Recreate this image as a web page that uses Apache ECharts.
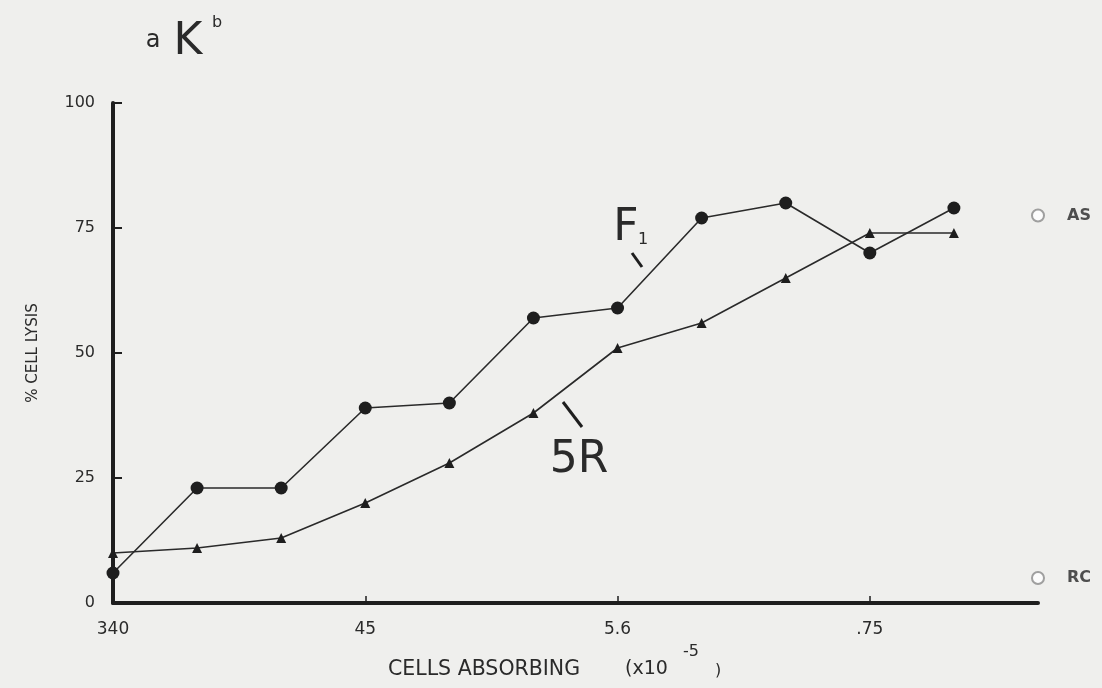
<!DOCTYPE html>
<html>
<head>
<meta charset="utf-8">
<script src="https://cdn.jsdelivr.net/npm/echarts@6/dist/echarts.min.js"></script>
<style>
html,body{margin:0;padding:0;background:#efefed;}
#c{width:1102px;height:688px;}
</style>
</head>
<body>
<div id="c"></div>
<script>
// x positions in thirds of a major step (major ticks at 0,3,6,9)
const xSteps = [0, 1, 2, 3, 4, 5, 6, 7, 8, 9, 10];
const xTickValues = [0, 3, 6, 9];
const xTickLabels = ['340', '45', '5.6', '.75'];
const yTickValues = [25, 50, 75, 100];
const f1Values = [6, 23, 23, 39, 40, 57, 59, 77, 80, 70, 79];
const r5Values = [10, 11, 13, 20, 28, 38, 51, 56, 65, 74, 74];
const controlNames = ['AS', 'RC'];
const controlValues = [77.5, 5];
const controlX = 11;

const FONT = 'DejaVu Sans';
const INK = '#1e1e1e';
const TXT = '#2a2a2a';

const chart = echarts.init(document.getElementById('c'), null, {renderer: 'canvas'});

const option = {
  backgroundColor: '#efefed',
  animation: false,
  grid: {left: 113, right: 64, top: 103, bottom: 85, containLabel: false},
  xAxis: {
    type: 'value', min: 0, max: 11, interval: 3,
    axisLine: {show: true, onZero: false, lineStyle: {color: INK, width: 4}},
    axisTick: {show: true, inside: true, length: 7, customValues: xTickValues.slice(1), lineStyle: {color: INK, width: 1.5}},
    axisLabel: {
      customValues: xTickValues, margin: 18, color: TXT, fontFamily: FONT, fontSize: 17,
      formatter: v => { const i = xTickValues.indexOf(v); return i >= 0 ? xTickLabels[i] : ''; }
    },
    splitLine: {show: false}
  },
  yAxis: {
    type: 'value', min: 0, max: 100, interval: 25,
    name: '% CELL LYSIS', nameLocation: 'middle', nameRotate: 90, nameGap: 72,
    nameTextStyle: {color: TXT, fontFamily: FONT, fontSize: 15},
    axisLine: {show: true, onZero: false, lineStyle: {color: INK, width: 4}},
    axisTick: {show: true, inside: true, length: 9, customValues: yTickValues, lineStyle: {color: INK, width: 2}},
    axisLabel: {margin: 18, color: TXT, fontFamily: FONT, fontSize: 16},
    splitLine: {show: false}
  },
  series: [
    {
      name: 'F1', type: 'line',
      data: xSteps.map((x, i) => [x, f1Values[i]]),
      symbol: 'circle', symbolSize: 13,
      itemStyle: {color: INK},
      lineStyle: {color: '#2a2a2a', width: 1.6}
    },
    {
      name: '5R', type: 'line',
      data: xSteps.map((x, i) => [x, r5Values[i]]),
      symbol: 'triangle', symbolSize: 10,
      itemStyle: {color: INK},
      lineStyle: {color: '#2a2a2a', width: 1.6}
    },
    {
      name: 'controls', type: 'scatter', clip: false,
      data: controlNames.map((n, i) => ({name: n, value: [controlX, controlValues[i]]})),
      symbol: 'emptyCircle', symbolSize: 12,
      itemStyle: {color: '#8a8a8a', borderColor: '#8a8a8a', borderWidth: 1.5},
      label: {show: true, position: 'right', distance: 22, formatter: '{b}', color: '#262626', fontFamily: FONT, fontSize: 16, fontWeight: 'bold'}
    }
  ],
  graphic: [
    // title aK^b
    {type: 'text', style: {x: 153, y: 41, text: 'a', font: '24px "DejaVu Sans"', fill: TXT, textAlign: 'center', textVerticalAlign: 'middle'}},
    {type: 'text', style: {x: 188, y: 43, text: 'K', font: '44px "DejaVu Sans"', fill: TXT, textAlign: 'center', textVerticalAlign: 'middle'}},
    {type: 'text', style: {x: 217, y: 23, text: 'b', font: '16px "DejaVu Sans"', fill: TXT, textAlign: 'center', textVerticalAlign: 'middle'}},
    // F1 annotation
    {type: 'text', style: {x: 626, y: 229, text: 'F', font: '44px "DejaVu Sans"', fill: TXT, textAlign: 'center', textVerticalAlign: 'middle'}},
    {type: 'text', style: {x: 643, y: 240, text: '1', font: '16px "DejaVu Sans"', fill: TXT, textAlign: 'center', textVerticalAlign: 'middle'}},
    {type: 'line', shape: {x1: 632, y1: 253, x2: 642, y2: 267}, style: {stroke: INK, lineWidth: 3}},
    // 5R annotation
    {type: 'text', style: {x: 579, y: 461, text: '5R', font: '44px "DejaVu Sans"', fill: TXT, textAlign: 'center', textVerticalAlign: 'middle'}},
    {type: 'line', shape: {x1: 563, y1: 402, x2: 582, y2: 427}, style: {stroke: INK, lineWidth: 3}},
    // x axis name
    {type: 'text', style: {x: 388, y: 670, text: 'CELLS ABSORBING', font: '20.5px "DejaVu Sans"', fill: TXT, textAlign: 'left', textVerticalAlign: 'middle'}},
    {type: 'text', style: {x: 625, y: 669, text: '(x10', font: '19px "DejaVu Sans"', fill: TXT, textAlign: 'left', textVerticalAlign: 'middle'}},
    {type: 'text', style: {x: 683, y: 652, text: '-5', font: '16px "DejaVu Sans"', fill: TXT, textAlign: 'left', textVerticalAlign: 'middle'}},
    {type: 'text', style: {x: 715, y: 671, text: ')', font: '16px "DejaVu Sans"', fill: TXT, textAlign: 'left', textVerticalAlign: 'middle'}}
  ]
};
chart.setOption(option);
</script>
</body>
</html>
